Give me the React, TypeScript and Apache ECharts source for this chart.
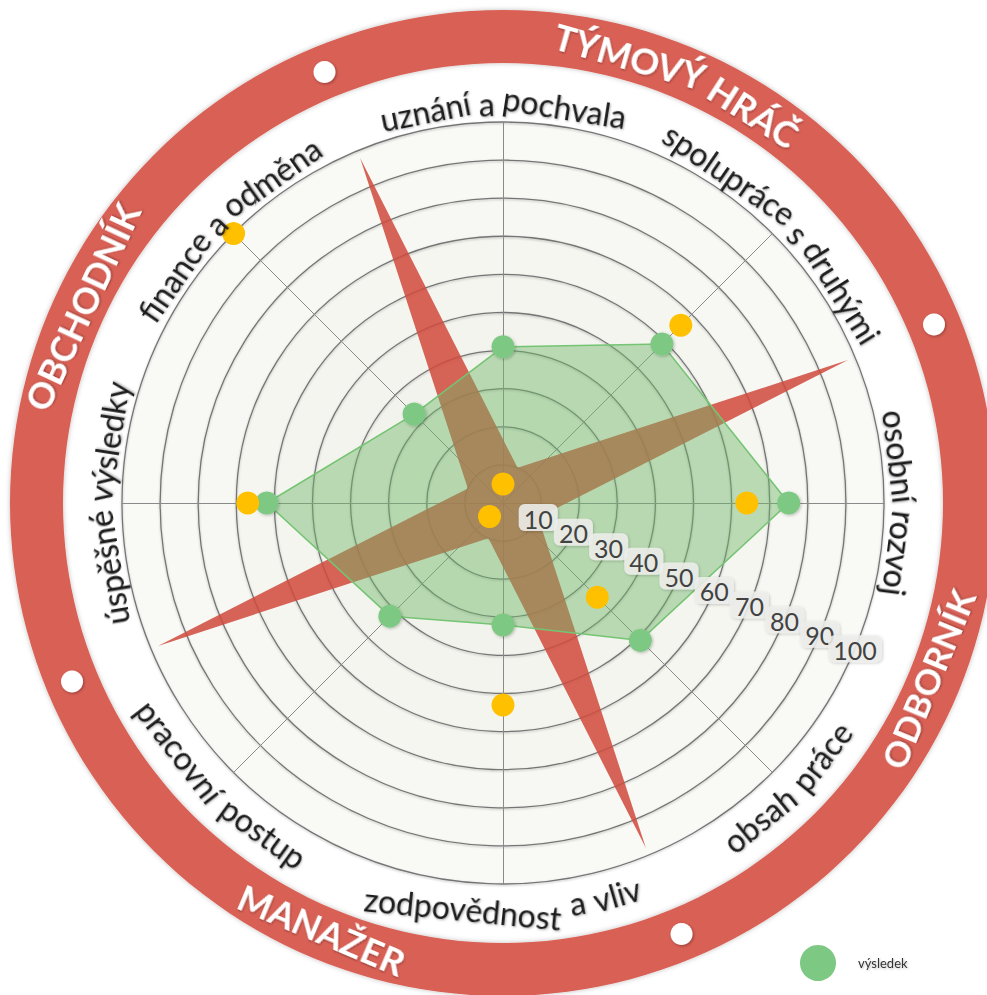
import React, { useEffect, useRef } from 'react';
import * as echarts from 'echarts';

// ---- data ----
const INDICATORS = [
  'uznání a pochvala',
  'finance a odměna',
  'úspěšné výsledky',
  'pracovní postup',
  'zodpovědnost a vliv',
  'obsah práce',
  'osobní rozvoj',
  'spolupráce s druhými',
];
const RESULT_NAME = 'výsledek';
const RESULT = [41, 33, 62, 42, 32, 51, 75, 59];
const TARGET_NAME = 'cíl';
const TARGET = [5, 100, 67, 5, 53, 35, 64, 66];
// 4-point star drawn on a radar rotated by 22.5°: tips / waist
const STAR = [98, 10, 98, 10, 98, 10, 98, 10];
const SCALE_MIN = 0;
const SCALE_MAX = 100;
const SCALE_SPLITS = 10;
const ROLES = ['TÝMOVÝ HRÁČ', 'OBCHODNÍK', 'MANAŽER', 'ODBORNÍK'];
const ROLE_ANGLES = [67.5, 155, 247, 337.5];
const LEGEND_ITEMS = [RESULT_NAME];

const SPLIT_COLORS = [
  '#eef0e6', '#f0f1e8', '#f1f2ea', '#f2f3ec', '#f4f4ee',
  '#f5f5f0', '#f6f6f1', '#f7f7f3', '#f8f8f4', '#f9f9f6',
];

export default function App() {
  const ref = useRef<HTMLDivElement>(null);

  useEffect(() => {
    if (!ref.current) return;
    const chart = echarts.init(ref.current, null, { renderer: 'svg' });

    const CX = 503;
    const CY = 503;
    const R = 381;
    const RING_IN = 440;
    const RING_OUT = 493;
    const RING_MID = (RING_IN + RING_OUT) / 2;

    const canvas = document.createElement('canvas');
    const ctx = canvas.getContext('2d') as CanvasRenderingContext2D;
    const toRad = (d: number) => (d * Math.PI) / 180;

    function arcText(
      text: string,
      angDeg: number,
      rMid: number,
      cw: boolean,
      size: number,
      weight: string,
      fill: string,
      shadow: string
    ) {
      ctx.font = `${weight} ${size}px Lato`;
      const words = text.split(' ');
      const sp = ctx.measureText(' ').width;
      const widths = words.map((w) => ctx.measureText(w).width);
      const total = widths.reduce((a, b) => a + b, 0) + sp * (words.length - 1);
      let off = 0;
      return words.map((w, i) => {
        const s = off + widths[i] / 2 - total / 2;
        off += widths[i] + sp;
        const th = toRad(angDeg) + ((cw ? -1 : 1) * s) / rMid;
        return {
          type: 'text',
          x: CX + rMid * Math.cos(th),
          y: CY - rMid * Math.sin(th),
          rotation: cw ? th - Math.PI / 2 : th + Math.PI / 2,
          z: 20,
          style: {
            text: w,
            fontSize: size,
            fontFamily: 'Lato',
            fontWeight: weight,
            fill,
            align: 'center',
            verticalAlign: 'middle',
            textShadowColor: shadow,
            textShadowBlur: 2,
            textShadowOffsetX: 1,
            textShadowOffsetY: 1,
          },
        };
      });
    }

    const graphics: any[] = [];
    // red ring
    graphics.push({
      type: 'ring',
      z: 1,
      shape: { cx: CX, cy: CY, r: RING_OUT, r0: RING_IN },
      style: { fill: '#d96055', shadowBlur: 5, shadowColor: 'rgba(0,0,0,0.25)' },
    });
    // white dots separating the roles
    for (let k = 0; k < 4; k++) {
      const a = toRad(22.5 + 90 * k);
      graphics.push({
        type: 'circle',
        z: 2,
        shape: { cx: CX + RING_MID * Math.cos(a), cy: CY - RING_MID * Math.sin(a), r: 11 },
        style: { fill: '#ffffff', shadowBlur: 3, shadowColor: 'rgba(0,0,0,0.35)', shadowOffsetX: 1, shadowOffsetY: 1 },
      });
    }
    // role titles on the ring
    ROLES.forEach((role, k) => {
      const ang = ROLE_ANGLES[k];
      const cw = Math.sin(toRad(ang)) >= 0;
      const nearEdge = Math.cos(toRad(ang)) > 0.8;
      const rr = cw ? RING_MID - 2 : nearEdge ? RING_MID - 7 : RING_MID - 3;
      graphics.push(
        ...arcText(role, ang, rr, cw, nearEdge ? 35 : 36, 'bold', '#ffffff', 'rgba(0,0,0,0.35)')
      );
    });
    // indicator names along the outer circle
    INDICATORS.forEach((name, i) => {
      const ang = 90 + 45 * i;
      const cw = Math.sin(toRad(ang)) >= -1e-6;
      graphics.push(
        ...arcText(name, ang, cw ? 400 : 407, cw, 32, 'normal', '#1e1e1e', 'rgba(0,0,0,0.3)')
      );
    });

    const boxRich = {
      b: {
        color: '#424242',
        fontSize: 25,
        fontFamily: 'Lato',
        backgroundColor: 'rgba(238,239,236,0.88)',
        borderRadius: 6,
        padding: [2, 5, 0, 5],
        shadowColor: 'rgba(0,0,0,0.22)',
        shadowBlur: 3,
        shadowOffsetX: 1,
        shadowOffsetY: 1,
      },
    };
    const scaleLabel = (which: 'inner' | 'max') => ({
      show: true,
      showMinLabel: false,
      showMaxLabel: true,
      margin: 0,
      align: 'center',
      verticalAlign: 'middle',
      formatter: (v: number) =>
        which === 'max' ? (v >= SCALE_MAX ? `{b|${v}}` : '') : v >= SCALE_MAX ? '' : `{b|${v}}`,
      rich: boxRich,
    });

    // radar rotated by 22.5°: carries the star and the 10..90 scale labels (index 5 -> 337.5°)
    const starIndicators = STAR.map((_, i) =>
      i === 5
        ? { name: '', min: SCALE_MIN, max: SCALE_MAX, axisLabel: scaleLabel('inner') }
        : { name: '', min: SCALE_MIN, max: SCALE_MAX }
    );
    // helper radar starting at 337.5°: carries only the "100" scale label
    const maxIndicators = STAR.map((_, i) =>
      i === 0
        ? { name: '', min: SCALE_MIN, max: SCALE_MAX, axisLabel: scaleLabel('max') }
        : { name: '', min: SCALE_MIN, max: SCALE_MAX }
    );
    const hiddenRadar = (startAngle: number, indicator: any[]) => ({
      center: [CX, CY],
      radius: R,
      shape: 'circle',
      startAngle,
      splitNumber: SCALE_SPLITS,
      z: 10,
      indicator,
      axisName: { show: false },
      axisLabel: { show: false },
      axisTick: { show: false },
      axisLine: { show: false },
      splitLine: { show: false },
      splitArea: { show: false },
    });

    chart.setOption({
      animation: false,
      backgroundColor: '#ffffff',
      legend: {
        data: LEGEND_ITEMS,
        left: 800,
        top: 945,
        padding: 0,
        icon: 'circle',
        itemWidth: 36,
        itemHeight: 36,
        selectedMode: false,
        textStyle: {
          fontSize: 13,
          fontFamily: 'Lato',
          color: '#333333',
          padding: [4, 0, 0, 17],
          textShadowColor: 'rgba(0,0,0,0.25)',
          textShadowBlur: 2,
          textShadowOffsetX: 1,
          textShadowOffsetY: 1,
        },
      },
      radar: [
        {
          center: [CX, CY],
          radius: R,
          shape: 'circle',
          startAngle: 90,
          splitNumber: SCALE_SPLITS,
          indicator: INDICATORS.map((n) => ({ name: n, min: SCALE_MIN, max: SCALE_MAX })),
          axisName: { show: false },
          axisLabel: { show: false },
          axisTick: { show: false },
          axisLine: { lineStyle: { color: '#8a8a8a', width: 1 } },
          splitLine: {
            lineStyle: {
              color: '#757575',
              width: 1.3,
              shadowColor: 'rgba(0,0,0,0.25)',
              shadowBlur: 2,
              shadowOffsetY: 1,
            },
          },
          splitArea: { show: true, areaStyle: { color: SPLIT_COLORS } },
        },
        hiddenRadar(112.5, starIndicators),
        hiddenRadar(337.5, maxIndicators),
      ],
      series: [
        {
          type: 'radar',
          radarIndex: 1,
          z: 1,
          silent: true,
          symbol: 'none',
          lineStyle: { width: 0, opacity: 0 },
          areaStyle: { color: 'rgba(208,74,60,0.86)', opacity: 1 },
          data: [{ name: 'star', value: STAR }],
        },
        {
          type: 'radar',
          radarIndex: 0,
          z: 2,
          symbol: 'circle',
          symbolSize: 23,
          itemStyle: {
            color: '#7dc882',
            shadowColor: 'rgba(0,0,0,0.25)',
            shadowBlur: 3,
            shadowOffsetX: 1,
            shadowOffsetY: 1,
          },
          lineStyle: { color: '#78c878', width: 1.5 },
          areaStyle: { color: 'rgb(110,185,105)', opacity: 0.45 },
          data: [{ name: RESULT_NAME, value: RESULT }],
        },
        {
          type: 'radar',
          radarIndex: 0,
          z: 3,
          symbol: 'circle',
          symbolSize: 23,
          itemStyle: { color: '#ffc000' },
          lineStyle: { width: 0, opacity: 0 },
          data: [{ name: TARGET_NAME, value: TARGET }],
        },
      ],
      graphic: { elements: graphics },
    });

    return () => chart.dispose();
  }, []);

  return (
    <div
      ref={ref}
      style={{ position: 'fixed', left: 0, top: 0, width: 987, height: 995, background: '#fff' }}
    />
  );
}
